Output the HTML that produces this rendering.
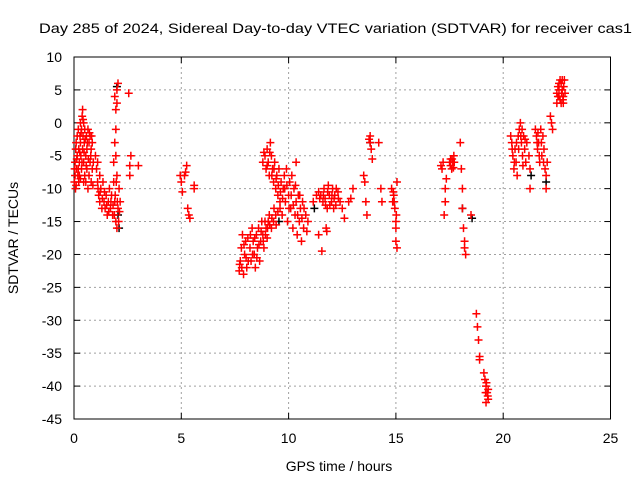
<!DOCTYPE html>
<html><head><meta charset="utf-8"><style>
body{margin:0;background:#fff;}
svg{display:block;font-family:"Liberation Sans",sans-serif;}
</style></head><body>
<svg id="chart" width="640" height="480" xmlns="http://www.w3.org/2000/svg">
<rect width="640" height="480" fill="#fff"/>
<text x="39" y="33" font-size="14" textLength="593" lengthAdjust="spacingAndGlyphs">Day 285 of 2024, Sidereal Day-to-day VTEC variation (SDTVAR) for receiver cas1</text>
<g id="grid"></g>
<g id="axes"></g>
<g id="marks"></g>
<text x="339" y="471" font-size="14" text-anchor="middle">GPS time / hours</text>
<text transform="translate(18,238) rotate(-90)" font-size="14" text-anchor="middle">SDTVAR / TECUs</text>
</svg>
<script>
const xTicks=[0,5,10,15,20,25];
const yTicks=[10,5,0,-5,-10,-15,-20,-25,-30,-35,-40,-45];
const hours=[0.02,0.05,0.05,0.08,0.1,0.1,0.12,0.15,0.15,0.18,0.2,0.22,0.25,0.25,0.28,0.3,0.3,0.32,0.35,0.35,0.38,0.4,0.4,0.42,0.45,0.45,0.48,0.5,0.5,0.55,0.55,0.58,0.6,0.6,0.65,0.65,0.7,0.7,0.75,0.75,0.8,0.8,0.85,0.85,0.3,0.45,
1.0,1.05,1.1,1.1,1.15,1.2,1.2,1.25,1.3,1.35,1.4,1.45,1.5,1.55,1.6,1.65,1.7,1.75,1.8,1.85,1.9,1.95,2.0,2.05,2.1,2.15,1.85,1.9,1.95,1.95,1.9,2.0,2.0,2.05,2.0,1.95,2.55,2.6,2.6,2.65,3.0,
4.95,5.0,5.05,5.15,5.2,5.25,5.3,5.35,5.4,5.6,5.6,
7.7,7.75,7.8,7.85,7.9,7.95,8.0,8.05,8.1,8.2,8.25,8.3,8.35,8.4,8.45,8.5,8.55,8.6,8.65,8.7,8.75,8.8,8.85,8.9,8.95,9.0,9.05,9.1,9.2,9.3,9.4,9.5,8.8,8.9,8.95,9.0,9.05,9.1,9.15,9.2,9.25,9.3,9.35,9.4,9.45,9.5,9.55,9.6,9.65,9.7,9.75,9.8,9.85,9.9,9.95,10.0,10.05,10.1,10.15,10.2,10.25,10.3,10.35,10.4,10.45,10.5,10.55,10.6,10.65,10.7,10.8,10.9,10.35,
11.15,11.3,11.4,11.5,11.55,11.6,11.65,11.7,11.75,11.8,11.85,11.9,12.0,12.05,12.1,12.15,12.2,12.3,12.4,12.5,12.6,11.4,12.8,12.9,13.0,
13.5,13.55,13.6,13.65,13.75,13.8,13.85,13.9,14.2,14.3,14.35,14.8,14.85,14.9,14.95,15.0,15.0,15.05,15.05,15.0,
17.1,17.15,17.2,17.3,17.3,17.25,17.35,17.5,17.55,17.6,17.7,17.65,18.0,18.05,18.1,18.1,18.15,18.2,18.25,18.2,18.5,18.75,18.8,18.85,18.9,18.9,19.1,19.15,19.2,19.25,19.3,19.2,19.3,
20.35,20.4,20.45,20.5,20.55,20.6,20.65,20.7,20.75,20.8,20.85,20.9,20.95,21.0,21.05,21.1,21.2,21.25,21.25,21.5,21.55,21.6,21.65,21.7,21.75,21.8,21.85,21.9,21.95,22.0,22.0,22.05,22.2,22.25,22.3,22.5,22.55,22.6,22.65,22.7,22.75,22.8,22.85,22.6,22.8,
0.03,0.07,0.13,0.2,0.22,0.27,0.33,0.37,0.42,0.47,0.52,0.57,0.62,0.67,0.72,0.78,0.82,0.88,0.9,
1.12,1.22,1.32,1.42,1.52,1.62,1.72,1.82,1.88,2.02,2.08,2.12,1.92,1.97,
7.72,7.82,7.92,8.02,8.12,8.22,8.32,8.42,8.52,8.62,8.72,8.82,8.92,9.02,9.12,9.22,9.32,9.42,9.6,
8.85,9.0,9.12,9.22,9.32,9.42,9.52,9.62,9.72,9.82,9.92,10.02,10.12,10.22,10.32,10.42,10.52,10.62,10.72,10.85,
11.45,11.62,11.72,11.82,11.92,12.02,12.12,12.22,12.32,11.78,
20.42,20.52,20.62,20.72,20.82,20.88,20.92,21.02,21.58,21.68,21.78,21.88,21.62,22.55,22.6,22.65,22.7,22.72,22.75,22.78,22.82,22.88,22.5,
17.55,17.62,17.68,17.72,19.18,19.28,19.22,
14.88,14.92,15.02,13.8];
const sdtvar=[-9,-8,-6,-4,-3,-9.5,-7,-5,-2,-8,-1,-4,-6,-8,-2,0,-3,-5,-1,-7,1,2,-4,-2,0,-6,-3,-8,-1,-5,-9,-2,-7,-4,-1,-10,-3,-8,-2,-6,-4,-9,-3,-7,-8.5,-9,
-5,-7,-9,-6,-11,-8,-12,-10,-13,-9,-12,-13,-11,-14,-12,-10,-13,-11,-14,-9,-12,-15,-16,-13,-10,-12,-6,-3,-1,2,4,3,5,6,-8,-5,4.5,-8,-6.5,-5,-6.5,
-8,-9,-10.5,-8,-7.5,-6.5,-13,-14,-14.5,-10,-9.5,
-22.5,-21,-19,-17,-23,-20,-18,-22,-17.5,-19,-21,-16,-18,-20,-22,-17,-19,-16,-21,-18,-15,-17,-19,-15,-16,-17.5,-15,-14,-16,-15,-14,-13.5,-6,-5,-7,-4,-6,-8,-3,-5,-7,-9,-6,-10,-8,-11,-7,-12,-9,-14,-10,-8,-12,-7,-15,-11,-9,-13,-8,-16,-10,-14,-12,-17,-11,-15,-13,-18,-12,-16,-14,-15,-6,
-12,-11,-10.5,-11,-19.5,-12,-10,-11.5,-16,-13,-9.5,-11,-12,-10,-13,-11,-12.5,-10.5,-12,-13,-14.5,-17,-12,-11.5,-10,
-8,-9,-12,-14,-2.5,-2,-4,-5.5,-3,-10,-12,-10,-12,-11,-13,-15,-18,-19,-9,-16,
-6.5,-7,-6,-10,-12,-14,-8.5,-6,-5.5,-7,-5,-6,-3,-7,-10,-13,-16,-18,-20,-19,-14,-29,-31,-33,-35.5,-36,-38,-39,-40,-41,-42,-42.5,-40.5,
-2,-3,-5,-7,-4,-6,-8,-2,-1,0,-3,-5,-2,-4,-6,-3,-5,-7,-10,-1,-2,-4,-3,-6,-1,-5,-2,-4,-7,-8,-10,-6,1,0,-1,3,4,5,3.5,6,5,4,6.5,6,3,
-7,-10,-5.5,-7,-9,-4.5,-1.5,-6,0.5,-4.5,-2.5,-6.5,-3,-5.5,-1.5,-5,-2,-9.5,-6,
-10,-10.5,-11.5,-10.5,-12.5,-13.5,-12,-12.5,-14,-12,-15,-13.5,-11,-9,
-21.5,-22,-18.5,-20.5,-21,-17,-20,-17.5,-20.5,-18.5,-16.5,-18,-17,-16,-15.5,-14.5,-13,-15.5,-13,
-4.5,-6.5,-4.5,-8,-7,-8.5,-9.5,-10.5,-11.5,-10,-9.5,-13,-11,-12.5,-9.5,-14,-11,-14.5,-13,-16.5,
-11.5,-11,-12.5,-10.5,-12.5,-11,-11.5,-10,-11.5,-16.5,
-4,-6,-3,-4,-2,-1,-6.5,-2.5,-3,-5,-3,-6,-1.5,5.5,4,6.5,3,4.5,6.5,3.5,5.5,4.5,4.5,
-6.5,-5.5,-6.8,-6,-41,-41.5,-39.5,
-10.5,-12,-14,-3];
const blackHours=[2.0,2.05,2.1,9.55,11.2,13.8,18.1,18.55,21.3,22.0];
const blackVals=[5.5,-14,-16,-15,-13,-3,-13,-14.5,-8,-9];

const X0=74,X1=610.5,Y0=419,Y1=57,XMAX=25,YMIN=-45,YMAX=10;
const sx=t=>X0+(X1-X0)*t/XMAX;
const sy=v=>Y0-(Y0-Y1)*(v-YMIN)/(YMAX-YMIN);
const NS='http://www.w3.org/2000/svg';
function mk(tag,attrs,parent){const e=document.createElementNS(NS,tag);for(const k in attrs)e.setAttribute(k,attrs[k]);parent.appendChild(e);return e;}
const grid=document.getElementById('grid'),axes=document.getElementById('axes'),marks=document.getElementById('marks');
xTicks.forEach(t=>{
  const x=sx(t);
  if(t>0&&t<XMAX){const g=mk('line',{x1:x,x2:x,y1:Y1,y2:Y0,stroke:'#a0a0a0','stroke-dasharray':'2,3'},grid);
  
  }
  mk('line',{x1:x,x2:x,y1:Y0,y2:Y0-6,stroke:'#000'},axes);
  mk('line',{x1:x,x2:x,y1:Y1,y2:Y1+6,stroke:'#000'},axes);
  const l=mk('text',{x:x,y:Y0+24,'font-size':14,'text-anchor':'middle'},axes);l.textContent=t;
  
  
});
yTicks.forEach(v=>{
  const y=sy(v);
  if(v>YMIN&&v<YMAX){const g=mk('line',{x1:X0,x2:X1,y1:y,y2:y,stroke:'#a0a0a0','stroke-dasharray':'2,3'},grid);
  
  }
  mk('line',{x1:X0,x2:X0+6,y1:y,y2:y,stroke:'#000'},axes);
  mk('line',{x1:X1,x2:X1-6,y1:y,y2:y,stroke:'#000'},axes);
  const l=mk('text',{x:X0-12,y:y+5,'font-size':14,'text-anchor':'end'},axes);l.textContent=v;
  
  
});
const fr=mk('rect',{x:X0,y:Y1,width:X1-X0,height:Y0-Y1,fill:'none',stroke:'#000'},axes);


function plus(t,v,c){
  const x=sx(t),y=sy(v);
  const p=mk('path',{d:`M${x-4},${y}h8M${x},${y-4}v8`,stroke:c,'stroke-width':1.5,fill:'none'},marks);
  
  
}
blackHours.forEach((t,i)=>plus(t,blackVals[i],'#000'));
hours.forEach((t,i)=>plus(t,sdtvar[i],'#f00'));
</script>
</body></html>
